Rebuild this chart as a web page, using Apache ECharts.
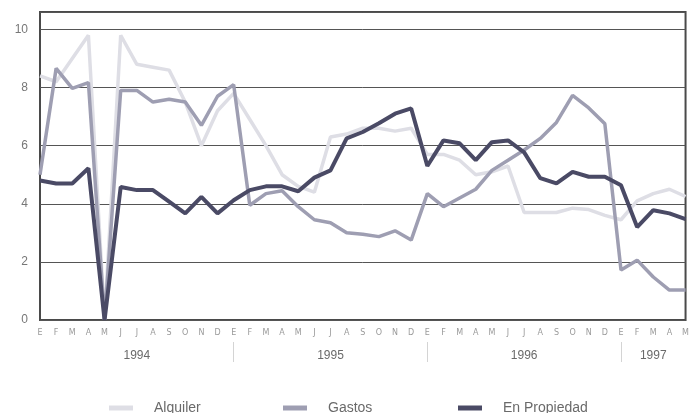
<!DOCTYPE html>
<html>
<head>
<meta charset="utf-8">
<script src="https://cdn.jsdelivr.net/npm/echarts@6/dist/echarts.min.js"></script>
<style>
  html, body { margin: 0; padding: 0; background: #ffffff; }
  #chart { width: 692px; height: 413px; }
</style>
</head>
<body>
<div id="chart"></div>
<script>
// Month categories (Spanish initials), Jan 1994 .. May 1997
var monthLetters = ['E','F','M','A','M','J','J','A','S','O','N','D'];
var months = [];
for (var y = 0; y < 4; y++) {
  var n = (y === 3) ? 5 : 12;
  for (var m = 0; m < n; m++) months.push(monthLetters[m]);
}
var years = ['1994', '1995', '1996', '1997'];
var yearLabelIndex = [6, 18, 30, 38];
var yearSeparatorIndex = [12, 24, 36];
var yTicks = [0, 2, 4, 6, 8, 10];

var alquiler = [
  8.4, 8.2, 9.0, 9.8, 0, 9.8, 8.8, 8.7, 8.6, 7.5, 6.0, 7.2,
  7.8, 6.9, 6.0, 5.0, 4.6, 4.4, 6.3, 6.4, 6.6, 6.6, 6.5, 6.6,
  5.7, 5.7, 5.5, 5.0, 5.1, 5.3, 3.7, 3.7, 3.7, 3.85, 3.8, 3.6,
  3.45, 4.1, 4.35, 4.5, 4.25
];
var gastos = [
  5.0, 8.66, 7.97, 8.17, 0, 7.9, 7.9, 7.5, 7.6, 7.5, 6.7, 7.7,
  8.1, 3.95, 4.35, 4.45, 3.9, 3.45, 3.35, 3.0, 2.95, 2.87, 3.07, 2.75,
  4.35, 3.9, 4.2, 4.5, 5.15, 5.5, 5.85, 6.25, 6.8, 7.73, 7.3, 6.75,
  1.72, 2.06, 1.48, 1.03, 1.03
];
var propiedad = [
  4.8, 4.7, 4.7, 5.22, 0, 4.58, 4.47, 4.47, 4.07, 3.67, 4.24, 3.67,
  4.12, 4.47, 4.6, 4.6, 4.43, 4.9, 5.15, 6.25, 6.47, 6.77, 7.1, 7.28,
  5.3, 6.18, 6.08, 5.5, 6.12, 6.18, 5.77, 4.88, 4.7, 5.1, 4.93, 4.93,
  4.64, 3.2, 3.78, 3.67, 3.47
];

var cLight = '#dedee5';
var cMid = '#9e9eb2';
var cDark = '#4a4a65';

var chart = echarts.init(document.getElementById('chart'), null, { renderer: 'canvas' });

function legendItem(name, left) {
  return {
    data: [{ name: name, icon: 'rect' }],
    left: left,
    top: 396,
    itemWidth: 24,
    itemHeight: 5,
    textStyle: { color: '#6a6a6a', fontSize: 14, fontFamily: 'Liberation Sans, Arial, sans-serif', padding: [0, 0, 3, 16] },
    selectedMode: false
  };
}

chart.setOption({
  animation: false,
  backgroundColor: '#ffffff',
  grid: {
    left: 40, right: 5, top: 12, bottom: 93,
    show: true, borderColor: '#4a4a4a', borderWidth: 2, backgroundColor: 'transparent'
  },
  legend: [
    legendItem('Alquiler', 104),
    legendItem('Gastos', 278),
    legendItem('En Propiedad', 453)
  ],
  xAxis: [
    {
      type: 'category',
      data: months,
      boundaryGap: false,
      axisLine: { show: false },
      axisTick: { show: false },
      axisLabel: { interval: 0, color: '#9a9a9a', fontSize: 8, margin: 9, fontFamily: 'DejaVu Sans, sans-serif' },
      splitLine: { show: false }
    },
    {
      type: 'category',
      data: months,
      boundaryGap: false,
      position: 'bottom',
      offset: 22,
      axisLine: { show: false },
      axisTick: {
        show: true, length: 20, inside: false,
        interval: function (i) { return yearSeparatorIndex.indexOf(i) >= 0; },
        lineStyle: { color: '#d4d4d4', width: 1 }
      },
      axisLabel: {
        show: true, margin: 8, color: '#6a6a6a', fontSize: 12,
        fontFamily: 'Liberation Sans, Arial, sans-serif',
        interval: function (i) { return yearLabelIndex.indexOf(i) >= 0; },
        formatter: function (v, i) {
          var k = yearLabelIndex.indexOf(i);
          return k >= 0 ? years[k] : '';
        }
      },
      splitLine: { show: false }
    }
  ],
  yAxis: {
    type: 'value',
    min: 0,
    max: 10.6,
    interval: 2,
    axisLine: { show: false },
    axisTick: { show: false },
    axisLabel: {
      color: '#777777', fontSize: 12, margin: 12,
      fontFamily: 'Liberation Sans, Arial, sans-serif',
      formatter: function (v) { return yTicks.indexOf(v) >= 0 ? String(v) : ''; }
    },
    splitLine: { show: true, lineStyle: { color: '#555555', width: 1 } }
  },
  series: [
    {
      name: 'Alquiler', type: 'line', data: alquiler, xAxisIndex: 0,
      symbol: 'none', lineStyle: { color: cLight, width: 3.5 }, itemStyle: { color: cLight }, z: 2
    },
    {
      name: 'Gastos', type: 'line', data: gastos, xAxisIndex: 0,
      symbol: 'none', lineStyle: { color: cMid, width: 3.5 }, itemStyle: { color: cMid }, z: 3
    },
    {
      name: 'En Propiedad', type: 'line', data: propiedad, xAxisIndex: 0,
      symbol: 'none', lineStyle: { color: cDark, width: 4 }, itemStyle: { color: cDark }, z: 4
    }
  ]
});
</script>
</body>
</html>
